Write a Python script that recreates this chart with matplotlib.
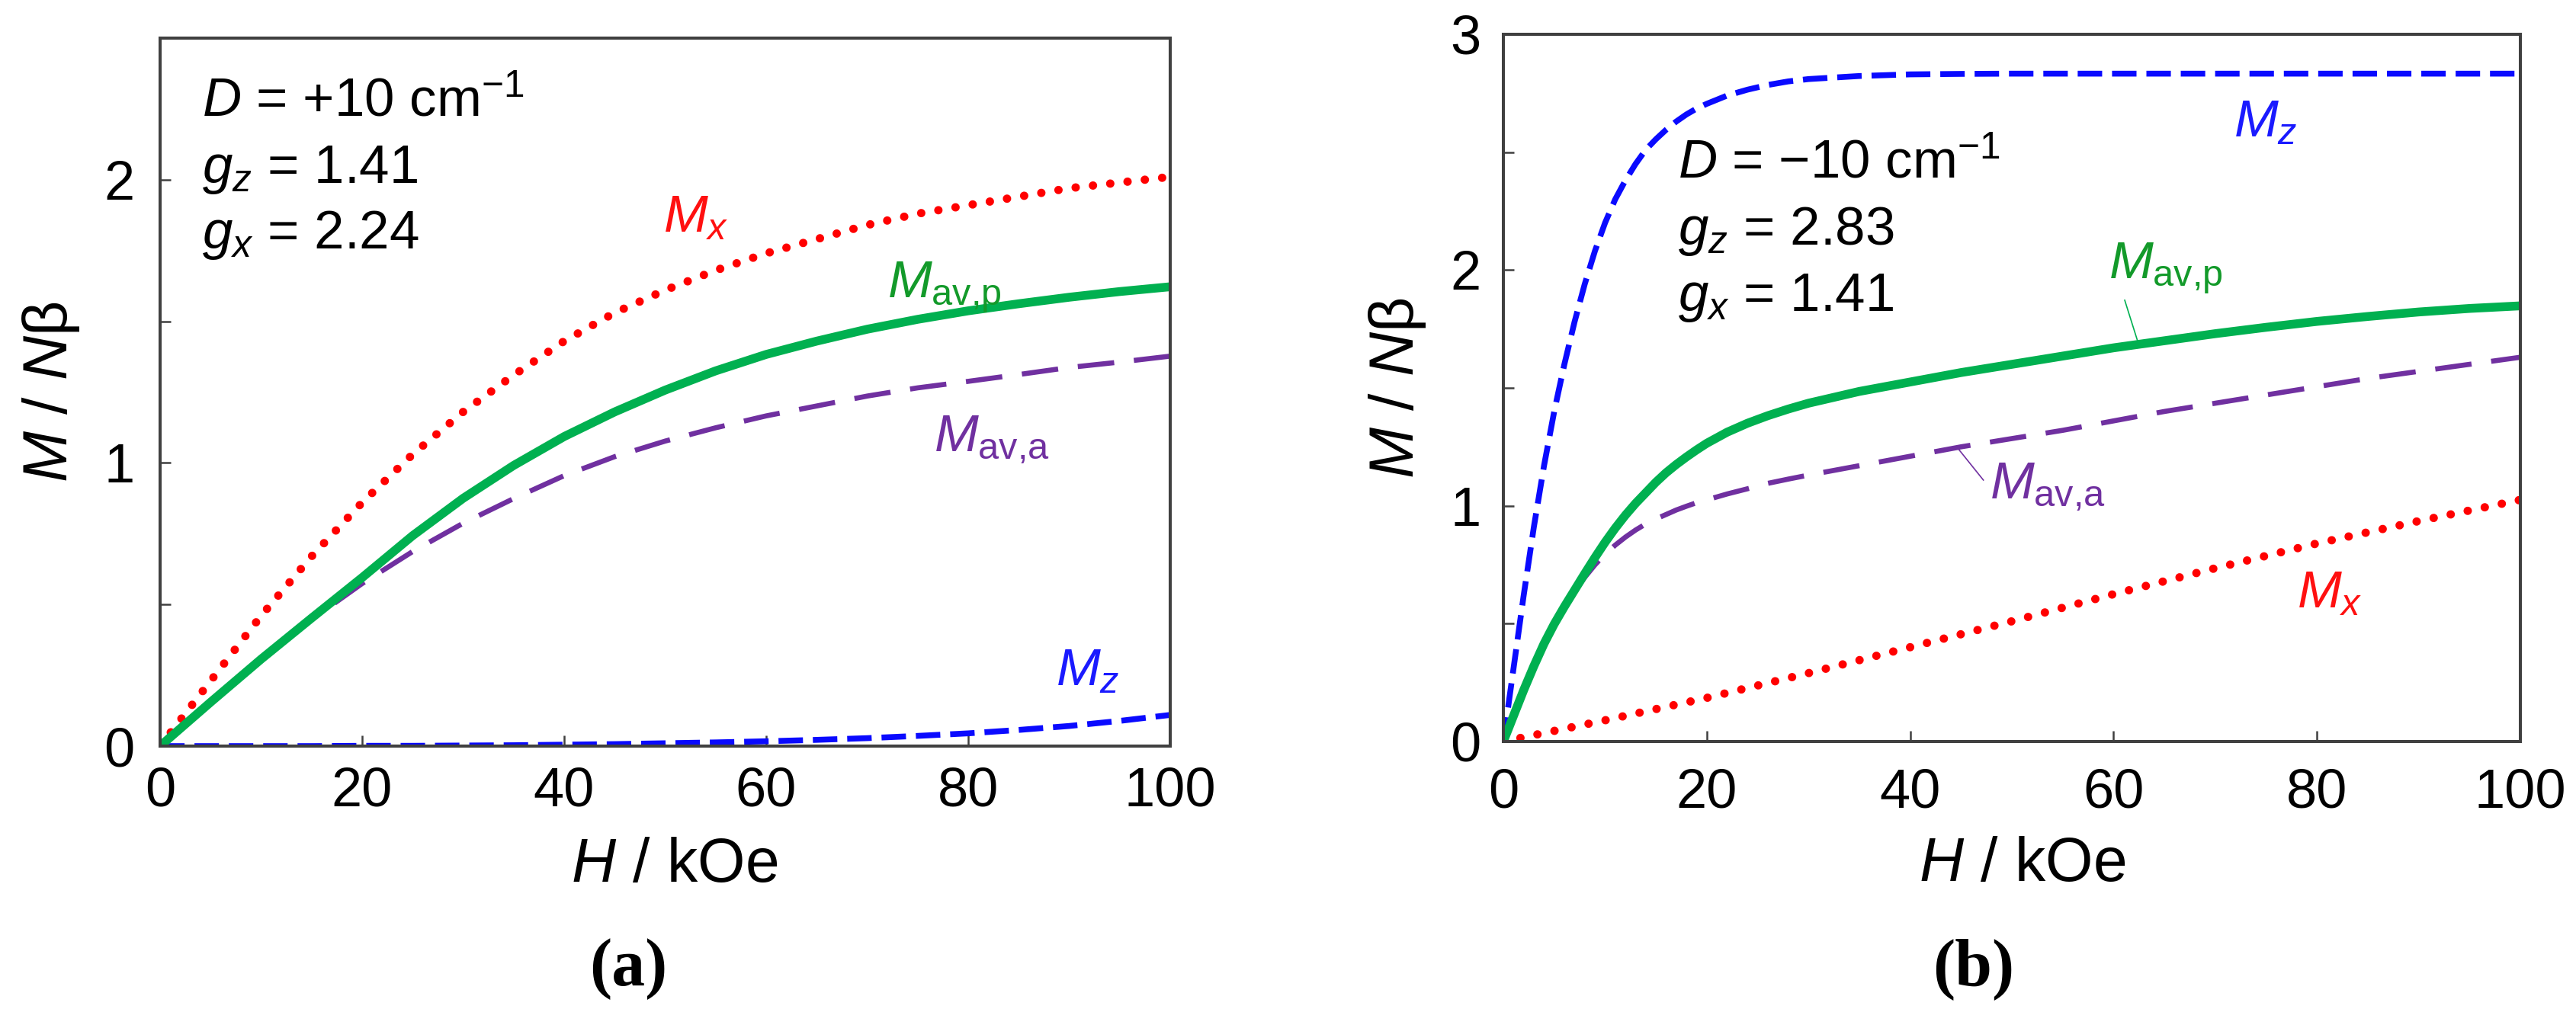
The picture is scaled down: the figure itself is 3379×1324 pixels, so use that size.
import matplotlib
matplotlib.use("Agg")
import matplotlib.pyplot as plt
from matplotlib.ticker import MultipleLocator, FuncFormatter


# ----- data (H in kOe, M in N-beta units) -----
# panel (a): D = +10 cm-1
H_A = [0, 5, 10, 15, 20, 25, 30, 35, 40, 45, 50, 55, 60, 65, 70, 75, 80, 85, 90, 95, 100]
MX_A = [0, 0.23, 0.46, 0.67, 0.86, 1.03, 1.18, 1.31, 1.43, 1.53, 1.61,
        1.68, 1.74, 1.79, 1.84, 1.88, 1.91, 1.94, 1.97, 1.99, 2.01]
MZ_A = [0, 0, 0, 0, 0.001, 0.001, 0.002, 0.003, 0.005, 0.007, 0.010,
        0.013, 0.017, 0.022, 0.028, 0.036, 0.045, 0.057, 0.071, 0.089, 0.110]
MAVA_A = [0, 0.155, 0.307, 0.447, 0.574, 0.687, 0.787, 0.874, 0.955, 1.022, 1.077,
          1.124, 1.166, 1.201, 1.236, 1.265, 1.288, 1.312, 1.337, 1.356, 1.377]
MAVP_A = [0, 0.155, 0.307, 0.452, 0.595, 0.743, 0.875, 0.991, 1.093, 1.180, 1.257,
          1.325, 1.383, 1.430, 1.472, 1.507, 1.537, 1.562, 1.585, 1.605, 1.622]

# panel (b): D = -10 cm-1
H_B = [0, 1, 2, 3, 4, 5, 6, 7, 8, 9, 10, 11, 12, 13, 14, 15, 16, 17, 18, 19, 20,
       22, 24, 26, 28, 30,
       35, 40, 45, 50, 55, 60, 65, 70, 75, 80, 85, 90, 95, 100]
MZ_B = [0, 0.31, 0.62, 0.91, 1.17, 1.40, 1.60, 1.78, 1.94, 2.08, 2.20,
        2.30, 2.38, 2.45, 2.51, 2.555, 2.595, 2.63, 2.66, 2.685, 2.705,
        2.74, 2.765, 2.785, 2.80, 2.81,
        2.823, 2.83, 2.832, 2.833, 2.833, 2.833, 2.833, 2.833, 2.833, 2.833, 2.833, 2.833, 2.833, 2.833]
MAVP_B = [0, 0.109, 0.218, 0.32, 0.415, 0.498, 0.572, 0.642, 0.712, 0.78, 0.845,
          0.905, 0.96, 1.01, 1.055, 1.10, 1.14, 1.175, 1.207, 1.237, 1.265,
          1.312, 1.35, 1.382, 1.41, 1.435,
          1.485, 1.525, 1.565, 1.60, 1.635, 1.67, 1.70, 1.73, 1.757, 1.782, 1.803, 1.822, 1.837, 1.848]
MAVA_B = [0, 0.109, 0.218, 0.32, 0.415, 0.497, 0.57, 0.636, 0.696, 0.749, 0.795,
          0.833, 0.867, 0.897, 0.923, 0.944, 0.963, 0.982, 0.998, 1.013, 1.025,
          1.05, 1.072, 1.095, 1.113, 1.13,
          1.17, 1.21, 1.25, 1.285, 1.32, 1.36, 1.40, 1.435, 1.47, 1.505, 1.54, 1.57, 1.60, 1.63]
H_BX = [0, 10, 20, 30, 40, 50, 60, 70, 80, 90, 100]
MX_B = [0, 0.09, 0.185, 0.29, 0.40, 0.51, 0.625, 0.735, 0.84, 0.935, 1.025]

# label anchors (data coords, left / baseline of the M)
LABELS_A = [("$M_x$", 49.8, 1.816, "red"), ("$M_\\mathrm{av{,}p}$", 72.0, 1.585, "green"),
            ("$M_\\mathrm{av{,}a}$", 76.6, 1.041, "purple"), ("$M_z$", 88.7, 0.215, "blue")]
LABELS_B = [("$M_z$", 71.8, 2.567, "blue"), ("$M_\\mathrm{av{,}p}$", 59.5, 1.966, "green"),
            ("$M_\\mathrm{av{,}a}$", 47.8, 1.031, "purple"), ("$M_x$", 78.0, 0.569, "red")]
LEADER_P_B = ([61.1, 62.4], [1.872, 1.694])
LEADER_A_B = ([44.8, 47.2], [1.238, 1.109])

TEXT_A = ["$D$ = +10 cm$^{-1}$", "$g_z$ = 1.41", "$g_x$ = 2.24"]
TEXT_B = ["$D$ = \u221210 cm$^{-1}$", "$g_z$ = 2.83", "$g_x$ = 1.41"]

# ----- style -----
RED = "#ff0000"
BLUE = "#0a0aff"
GREEN = "#00b050"
PURPLE = "#7030a0"
TXT = {"red": "#ff1010", "blue": "#1a1aff", "green": "#139a2a", "purple": "#7030a0"}
AXC = "#404040"

plt.rcParams["font.family"] = ["Liberation Sans", "DejaVu Sans"]
plt.rcParams["mathtext.fontset"] = "custom"
plt.rcParams["mathtext.rm"] = "Liberation Sans"
plt.rcParams["mathtext.it"] = "Liberation Sans:italic"
plt.rcParams["mathtext.bf"] = "Liberation Sans:bold"


def int_label(v, pos):
    if abs(v - round(v)) < 1e-6:
        return "%d" % round(v)
    return ""


def style_axes(ax, ymax, xpad, ypad):
    ax.set_xlim(0, 100)
    ax.set_ylim(0, ymax)
    ax.xaxis.set_major_locator(MultipleLocator(20))
    ax.yaxis.set_major_locator(MultipleLocator(0.5))
    ax.yaxis.set_major_formatter(FuncFormatter(int_label))
    ax.tick_params(direction="in", length=10, width=1.8, color=AXC,
                   labelsize=52, top=False, right=False)
    ax.tick_params(axis="x", pad=xpad)
    ax.tick_params(axis="y", pad=ypad)
    for s in ax.spines.values():
        s.set_linewidth(2.9)
        s.set_color(AXC)


def draw_curves(ax, hz, mz, hx, mx, hav, mava, mavp):
    ax.plot(hx, mx, color=RED, lw=7.9, linestyle=(0, (0.01, 2.07)),
            dash_capstyle="round")
    ax.plot(hz, mz, color=BLUE, lw=5.5, linestyle=(0, (4.2, 1.7)))
    ax.plot(hav, mava, color=PURPLE, lw=4.8, linestyle=(0, (7.2, 3.9)))
    ax.plot(hav, mavp, color=GREEN, lw=8.3, solid_capstyle="butt")


def put_labels(ax, labels):
    for txt, x, y, c in labels:
        ax.text(x, y, txt, color=TXT[c], fontsize=50, va="baseline", ha="left")


fig = plt.figure(figsize=(33.79, 13.24), dpi=100)

# ----- panel (a) -----
ax1 = fig.add_axes([0.06215, 0.26057, 0.39213, 0.70166])
style_axes(ax1, 2.5, 19, 24)
draw_curves(ax1, H_A, MZ_A, H_A, MX_A, H_A, MAVA_A, MAVP_A)
put_labels(ax1, LABELS_A)
for i, line in enumerate(TEXT_A):
    ax1.text(0.0415, [0.889, 0.795, 0.703][i], line, transform=ax1.transAxes,
             fontsize=51, va="baseline", ha="left")

# ----- panel (b) -----
ax2 = fig.add_axes([0.58360, 0.26511, 0.39479, 0.70091])
style_axes(ax2, 3.0, 25, 21)
draw_curves(ax2, H_B, MZ_B, H_BX, MX_B, H_B, MAVA_B, MAVP_B)
put_labels(ax2, LABELS_B)
ax2.plot(LEADER_P_B[0], LEADER_P_B[1], color=GREEN, lw=1.2)
ax2.plot(LEADER_A_B[0], LEADER_A_B[1], color=PURPLE, lw=1.2)
for i, line in enumerate(TEXT_B):
    ax2.text(0.172, [0.797, 0.703, 0.609][i], line, transform=ax2.transAxes,
             fontsize=51, va="baseline", ha="left")

# axis titles
for ax, xc, xy, yx in [(ax1, 0.509, -0.1916, -0.0921), (ax2, 0.5105, -0.197, -0.0885)]:
    ax.set_xlabel("$H$ / kOe", fontsize=58, va="baseline")
    ax.xaxis.set_label_coords(xc, xy)
    ax.set_ylabel("$M$ / $N$\u03b2", fontsize=58, va="baseline")
    ax.yaxis.set_label_coords(yx, 0.5)

fig.text(0.244, 0.040, "(a)", family="Liberation Serif", weight="bold",
         fontsize=63, ha="center", va="center")
fig.text(0.766, 0.040, "(b)", family="Liberation Serif", weight="bold",
         fontsize=63, ha="center", va="center")

fig.savefig("out.png", dpi=100, facecolor="white")
